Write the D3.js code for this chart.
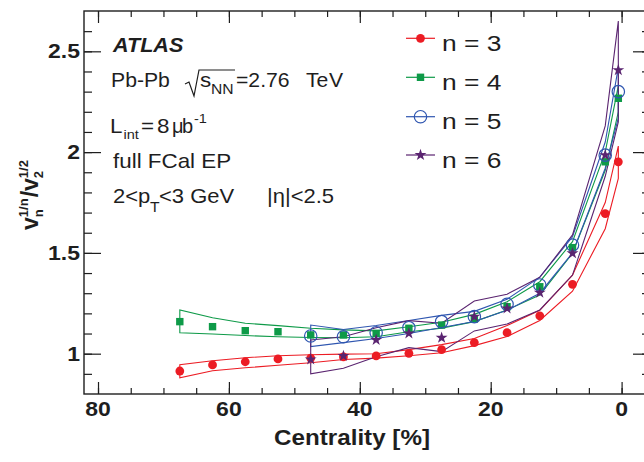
<!DOCTYPE html>
<html><head><meta charset="utf-8">
<script src="https://cdn.jsdelivr.net/npm/d3@7"></script>
<style>body{margin:0;background:#fff}svg{display:block}</style>
</head><body>
<svg id="c" width="644" height="462"></svg>
<script>
// ---------------- data ----------------
const cent3 = [0.5, 2.5, 7.5, 12.5, 17.5, 22.5, 27.5, 32.5, 37.5, 42.5, 47.5, 52.5, 57.5, 62.5, 67.5];
const n3Val = [1.952, 1.695, 1.344, 1.188, 1.104, 1.055, 1.020, 1.002, 0.989, 0.984, 0.978, 0.974, 0.960, 0.944, 0.914];
const n3Lo  = [1.870, 1.620, 1.310, 1.165, 1.085, 1.040, 1.005, 0.990, 0.978, 0.971, 0.955, 0.943, 0.930, 0.915, 0.880];
const n3Hi  = [2.030, 1.750, 1.390, 1.215, 1.140, 1.075, 1.045, 1.020, 1.000, 0.998, 0.995, 0.990, 0.980, 0.965, 0.945];

const cent4 = [0.5, 2.5, 7.5, 12.5, 17.5, 22.5, 27.5, 32.5, 37.5, 42.5, 47.5, 52.5, 57.5, 62.5, 67.5];
const n4Val = [2.267, 1.952, 1.526, 1.332, 1.233, 1.172, 1.142, 1.126, 1.101, 1.093, 1.093, 1.109, 1.114, 1.134, 1.159];
const n4Lo  = [2.200, 1.910, 1.498, 1.291, 1.217, 1.159, 1.126, 1.109, 1.084, 1.079, 1.080, 1.084, 1.090, 1.098, 1.104];
const n4Hi  = [2.330, 2.000, 1.556, 1.357, 1.258, 1.195, 1.156, 1.134, 1.113, 1.118, 1.126, 1.139, 1.151, 1.178, 1.217];

const cent5 = [0.5, 2.5, 7.5, 12.5, 17.5, 22.5, 27.5, 32.5, 37.5, 42.5, 47.5];
const n5Val = [2.300, 1.985, 1.539, 1.341, 1.245, 1.184, 1.159, 1.129, 1.104, 1.084, 1.088];
const n5Lo  = [2.170, 1.920, 1.500, 1.300, 1.215, 1.160, 1.130, 1.100, 1.075, 1.055, 1.035];
const n5Hi  = [2.420, 2.050, 1.580, 1.380, 1.270, 1.210, 1.190, 1.165, 1.140, 1.120, 1.142];

const cent6 = [0.5, 2.5, 7.5, 12.5, 17.5, 22.5, 27.5, 32.5, 37.5, 42.5, 47.5];
const n6Val = [2.407, 1.985, 1.498, 1.303, 1.225, 1.184, 1.079, 1.101, 1.068, 0.989, 0.972];
const n6Lo  = [2.150, 1.880, 1.390, 1.217, 1.147, 1.113, 1.010, 1.030, 0.985, 0.928, 0.900];
const n6Hi  = [2.650, 2.130, 1.589, 1.379, 1.295, 1.261, 1.151, 1.164, 1.129, 1.084, 1.068];

const xMajorTicks = [80, 60, 40, 20, 0];
const xMinorTicks = [80, 75, 70, 65, 60, 55, 50, 45, 40, 35, 30, 25, 20, 15, 10, 5, 0];
const yMajorTicks = [1, 1.5, 2, 2.5];
const yTickLabels = ["1", "1.5", "2", "2.5"];
const yMinorTicks = [0.9, 1.0, 1.1, 1.2, 1.3, 1.4, 1.5, 1.6, 1.7, 1.8, 1.9, 2.0, 2.1, 2.2, 2.3, 2.4, 2.5, 2.6];
const legendLabels = ["n = 3", "n = 4", "n = 5", "n = 6"];

// ---------------- setup ----------------
const svg = d3.select("#c");
const L = 84, R = 650, T = 11, B = 394;
const x = d3.scaleLinear().domain([82.14, -4.34]).range([L, R]);
const y = d3.scaleLinear().domain([0.8, 2.7]).range([B, T]);
const SX = 1.12;
const FONT = "Liberation Sans, Arial, Helvetica, sans-serif";
const INK = "#1e1e1e";

function txt(g, px, py, s, o) {
  o = o || {};
  return g.append("text")
    .attr("transform", `translate(${px},${py}) scale(${o.sx ?? SX},1)`)
    .attr("font-family", FONT)
    .attr("font-size", o.size || 20)
    .attr("font-weight", o.weight || "normal")
    .attr("font-style", o.style || "normal")
    .attr("text-anchor", o.anchor || "start")
    .attr("fill", o.fill || INK)
    .text(s);
}

const colors = { n3: "#ec1c24", n4: "#0e9a48", n5: "#2f56b0", n6: "#5a2470" };

// ---------------- axes ----------------
const axG = svg.append("g");
function addAxis(gen, tr) {
  const g = axG.append("g").attr("transform", tr).call(gen);
  g.select(".domain").remove();
  g.selectAll("line").attr("stroke", INK).attr("stroke-width", 1.2);
  g.selectAll("text").remove();
}
addAxis(d3.axisBottom(x).tickValues(xMinorTicks).tickSize(-6), `translate(0,${B})`);
addAxis(d3.axisBottom(x).tickValues(xMajorTicks).tickSize(-12), `translate(0,${B})`);
addAxis(d3.axisTop(x).tickValues(xMinorTicks).tickSize(-6), `translate(0,${T})`);
addAxis(d3.axisTop(x).tickValues(xMajorTicks).tickSize(-12), `translate(0,${T})`);
addAxis(d3.axisLeft(y).tickValues(yMinorTicks).tickSize(-8), `translate(${L},0)`);
addAxis(d3.axisLeft(y).tickValues(yMajorTicks).tickSize(-17), `translate(${L},0)`);
addAxis(d3.axisRight(y).tickValues(yMinorTicks).tickSize(-8), `translate(${R},0)`);
addAxis(d3.axisRight(y).tickValues(yMajorTicks).tickSize(-17), `translate(${R},0)`);
axG.append("rect").attr("x", L).attr("y", T).attr("width", R - L).attr("height", B - T)
  .attr("fill", "none").attr("stroke", INK).attr("stroke-width", 1.4);

xMajorTicks.forEach(v => txt(svg, x(v), 416, String(v), { size: 20, weight: "bold", anchor: "middle", sx: 1.15 }));
yMajorTicks.forEach((v, i) => txt(svg, 80, y(v) + 7, yTickLabels[i], { size: 20, weight: "bold", anchor: "end", sx: 1.15 }));

txt(svg, 352, 445, "Centrality [%]", { size: 22, weight: "bold", anchor: "middle", sx: 1.1 });

// y title (rotated, stacked sub/superscripts)
(function () {
  const g = svg.append("g").attr("transform", "translate(38,195) rotate(-90)");
  const inner = g.append("g");
  let cx = 0;
  function piece(s, size, dy) {
    const t = inner.append("text").attr("x", cx).attr("y", dy).attr("font-family", FONT)
      .attr("font-size", size).attr("font-weight", "bold").attr("fill", INK).text(s);
    return t.node().getComputedTextLength();
  }
  cx += piece("v", 23, 0);
  let w1 = piece("1/n", 13, -10), w2 = piece("n", 13, 5); cx += Math.max(w1, w2) + 1;
  cx += piece("/", 23, 0);
  cx += piece("v", 23, 0);
  w1 = piece("1/2", 13, -10); w2 = piece("2", 13, 5); cx += Math.max(w1, w2);
  inner.attr("transform", `translate(${-cx / 2},0)`);
})();

// ---------------- bands + markers ----------------
const series = [
  { key: "n3", cent: cent3, val: n3Val, lo: n3Lo, hi: n3Hi, marker: "dot" },
  { key: "n4", cent: cent4, val: n4Val, lo: n4Lo, hi: n4Hi, marker: "square" },
  { key: "n5", cent: cent5, val: n5Val, lo: n5Lo, hi: n5Hi, marker: "open" },
  { key: "n6", cent: cent6, val: n6Val, lo: n6Lo, hi: n6Hi, marker: "star" }
];
const bandG = svg.append("g");
series.forEach(s => {
  const pts = s.cent.map((c, i) => [x(c), y(s.hi[i])])
    .concat(s.cent.map((c, i) => [x(c), y(s.lo[i])]).reverse());
  bandG.append("path").attr("d", d3.line()(pts) + "Z")
    .attr("fill", "none").attr("stroke", colors[s.key]).attr("stroke-width", 1.1);
});

function drawMarker(g, type, cx, cy, col, scale) {
  scale = scale || 1;
  if (type === "dot") {
    g.append("circle").attr("cx", cx).attr("cy", cy).attr("r", 4.4 * scale).attr("fill", col);
  } else if (type === "square") {
    const h = 3.7 * scale;
    g.append("rect").attr("x", cx - h).attr("y", cy - h).attr("width", 2 * h).attr("height", 2 * h).attr("fill", col);
  } else if (type === "open") {
    g.append("circle").attr("cx", cx).attr("cy", cy).attr("r", 6.2 * scale).attr("fill", "none")
      .attr("stroke", col).attr("stroke-width", 1.2);
  } else {
    g.append("path").attr("d", d3.symbol(d3.symbolStar, 44 * scale * scale)())
      .attr("transform", `translate(${cx},${cy})`).attr("fill", col);
  }
}
const markG = svg.append("g");
series.forEach(s => {
  s.cent.forEach((c, i) => drawMarker(markG, s.marker, x(c), y(s.val[i]), colors[s.key]));
});

// ---------------- legend ----------------
const legY = [38.3, 77.3, 116.7, 155];
series.forEach((s, i) => {
  svg.append("line").attr("x1", 406).attr("x2", 435).attr("y1", legY[i]).attr("y2", legY[i])
    .attr("stroke", colors[s.key]).attr("stroke-width", 1.2);
  drawMarker(svg, s.marker, 420.5, legY[i], colors[s.key]);
  txt(svg, 442, legY[i] + 12.5, legendLabels[i], { size: 22, sx: 1.2 });
});

// ---------------- text block ----------------
txt(svg, 113, 52, "ATLAS", { size: 20, weight: "bold", style: "italic", sx: 1.08 });
txt(svg, 111, 87, "Pb-Pb", { size: 20, sx: 1.06 });
svg.append("path").attr("d", "M185,84 L189,82 L194,96 L199,70 L235,70")
  .attr("fill", "none").attr("stroke", INK).attr("stroke-width", 1.2);
txt(svg, 200, 87, "s", { size: 20 });
txt(svg, 211, 94, "NN", { size: 14 });
txt(svg, 236, 87, "=2.76", { size: 20, sx: 1.06 });
txt(svg, 306, 87, "Te", { size: 20, sx: 1.06 });
txt(svg, 329, 87, "V", { size: 20, sx: 1.06 });

txt(svg, 110, 133, "L", { size: 20 });
txt(svg, 123.5, 139, "int", { size: 13 });
txt(svg, 141, 133, "=", { size: 20 });
txt(svg, 157, 133, "8", { size: 20 });
txt(svg, 172, 133, "\u03bc", { size: 20, sx: 1.0 });
txt(svg, 182, 133, "b", { size: 20, sx: 1.0 });
txt(svg, 194, 123, "-1", { size: 13 });

txt(svg, 113, 168, "full FCal EP", { size: 20, sx: 1.12 });

txt(svg, 113, 203, "2<p", { size: 20, sx: 1.1 });
txt(svg, 150, 212, "T", { size: 14 });
txt(svg, 159, 203, "<3 GeV", { size: 20, sx: 1.1 });
txt(svg, 267, 203, "|\u03b7|<2.5", { size: 20, sx: 1.1 });
</script>
</body></html>
